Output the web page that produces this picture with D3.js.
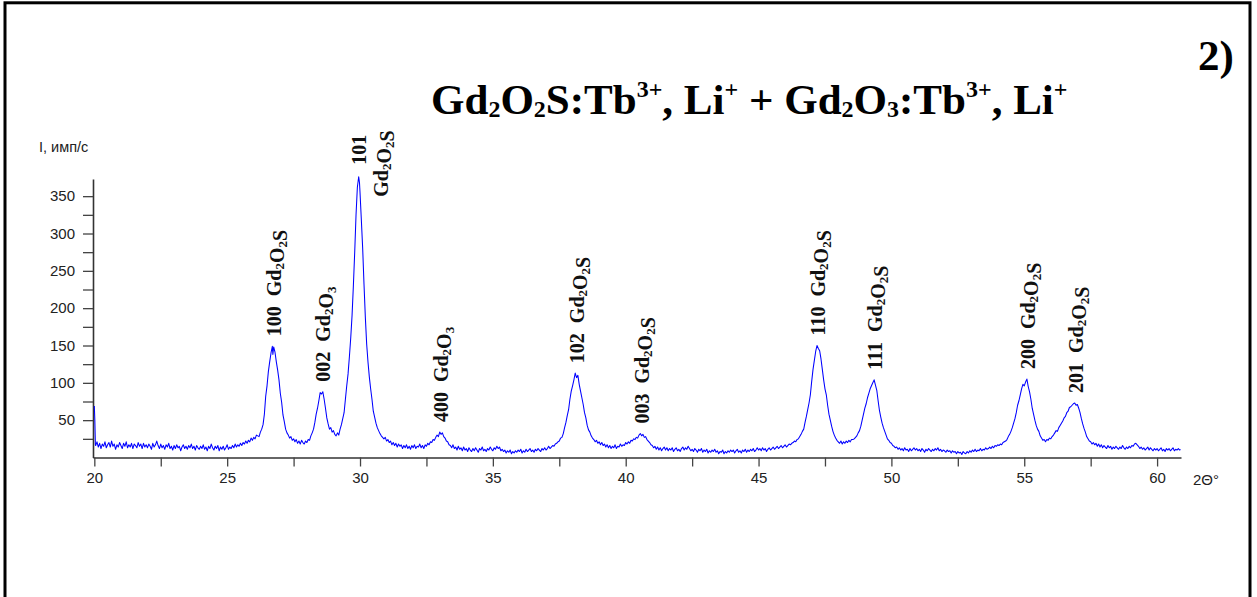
<!DOCTYPE html>
<html>
<head>
<meta charset="utf-8">
<script src="https://cdn.jsdelivr.net/npm/d3@7"></script>
<style>
  body { margin: 0; background: #fff; }
  svg { display: block; }
</style>
</head>
<body>
<svg id="chart" width="1257" height="597"></svg>
<script>
// XRD scan: [2theta, counts]
const scan = [
  [20.00,69],[20.02,49],[20.04,17],
  [20.05,16],[20.10,21],[20.15,14],[20.20,19],[20.25,12],[20.30,18],[20.35,15],[20.40,21],[20.45,13],[20.50,17],
  [20.55,20],[20.60,14],[20.65,22],[20.70,15],[20.75,18],[20.80,11],[20.85,17],[20.90,14],[20.95,20],
  [21.00,16],[21.05,12],[21.10,19],[21.15,15],[21.20,21],[21.25,13],[21.30,17],[21.35,14],[21.40,19],[21.45,12],
  [21.50,18],[21.55,16],[21.60,13],[21.65,20],[21.70,15],[21.75,18],[21.80,12],[21.85,19],[21.90,14],[21.95,17],
  [22.00,13],[22.05,18],[22.10,15],[22.15,11],[22.20,19],[22.25,14],[22.30,17],[22.35,22],[22.40,16],[22.45,12],
  [22.50,18],[22.55,13],[22.60,16],[22.65,11],[22.70,17],[22.75,14],[22.80,19],[22.85,12],[22.90,15],[22.95,10],
  [23.00,16],[23.05,12],[23.10,17],[23.15,13],[23.20,15],[23.25,9],[23.30,14],[23.35,17],[23.40,12],[23.45,15],
  [23.50,11],[23.55,16],[23.60,13],[23.65,18],[23.70,12],[23.75,15],[23.80,10],[23.85,16],[23.90,13],[23.95,11],
  [24.00,15],[24.05,12],[24.10,17],[24.15,11],[24.20,14],[24.25,9],[24.30,15],[24.35,12],[24.40,18],[24.45,13],
  [24.50,10],[24.55,15],[24.60,12],[24.65,16],[24.70,9],[24.75,14],[24.80,11],[24.85,15],[24.90,10],[24.95,13],
  [25.00,17],[25.05,11],[25.10,14],[25.15,12],[25.20,16],[25.25,13],[25.30,18],[25.35,14],[25.40,17],[25.45,15],
  [25.50,19],[25.55,16],[25.60,20],[25.65,18],[25.70,22],[25.75,19],[25.80,23],[25.85,21],[25.90,26],[25.95,23],
  [26.00,27],[26.05,25],[26.10,30],[26.15,29],[26.20,28],[26.25,34],[26.30,38],[26.35,44],[26.40,58],[26.45,82],
  [26.50,96],[26.55,115],[26.60,128],[26.65,140],[26.70,149],[26.72,138],[26.75,148],[26.80,141],
  [26.85,128],[26.90,117],[26.95,104],[27.00,86],[27.05,74],[27.10,57],[27.15,48],[27.20,38],[27.25,33],
  [27.30,30],[27.35,26],[27.40,28],[27.45,23],[27.50,25],[27.55,21],[27.60,24],[27.65,19],[27.70,22],
  [27.75,18],[27.80,23],[27.85,20],[27.90,18],[27.95,22],
  [28.00,20],[28.05,24],[28.10,23],[28.15,29],[28.20,33],[28.25,38],[28.30,47],[28.35,58],[28.40,66],
  [28.45,76],[28.50,87],[28.55,85],[28.60,88],[28.65,78],[28.70,66],[28.75,53],[28.80,45],[28.85,38],
  [28.90,40],[28.95,34],[29.00,36],[29.05,31],[29.10,29],[29.15,33],[29.20,30],[29.25,38],[29.30,44],
  [29.35,52],[29.40,60],[29.45,78],[29.50,96],[29.55,112],[29.60,135],[29.65,160],[29.70,190],[29.75,230],
  [29.80,275],[29.85,325],[29.90,362],[29.95,376],[29.98,368],[30.00,355],[30.05,318],[30.10,280],
  [30.15,232],[30.20,188],[30.25,152],[30.30,128],[30.35,108],[30.40,92],[30.45,78],[30.50,62],[30.55,54],
  [30.60,46],[30.65,40],[30.70,36],[30.75,32],[30.80,29],[30.85,27],
  [30.90,25],[30.95,27],[31.00,22],[31.05,24],[31.10,20],[31.15,22],[31.20,17],[31.25,20],[31.30,16],[31.35,19],
  [31.40,14],[31.45,18],[31.50,15],[31.55,17],[31.60,12],[31.65,16],[31.70,13],[31.75,17],[31.80,12],[31.85,15],
  [31.90,11],[31.95,16],[32.00,13],[32.05,17],[32.10,12],[32.15,15],[32.20,14],[32.25,18],[32.30,13],[32.35,16],
  [32.40,12],[32.45,17],[32.50,15],[32.55,19],[32.60,17],[32.65,21],[32.70,20],[32.75,24],[32.80,23],[32.85,27],
  [32.90,30],[32.95,28],[33.00,34],[33.05,31],[33.10,33],[33.15,28],[33.20,26],[33.25,22],[33.30,21],[33.35,17],
  [33.40,16],[33.45,13],[33.50,17],[33.55,12],[33.60,14],[33.65,10],[33.70,15],[33.75,11],[33.80,13],[33.85,9],
  [33.90,14],[33.95,10],
  [34.00,12],[34.05,8],[34.10,13],[34.15,10],[34.20,8],[34.25,12],[34.30,9],[34.35,13],[34.40,10],[34.45,7],
  [34.50,12],[34.55,10],[34.60,14],[34.65,9],[34.70,11],[34.75,8],[34.80,12],[34.85,10],[34.90,14],[34.95,11],
  [35.00,9],[35.05,13],[35.10,11],[35.15,15],[35.20,12],[35.25,14],[35.30,9],[35.35,11],[35.40,8],[35.45,10],
  [35.50,6],[35.55,9],[35.60,7],[35.65,10],[35.70,5],[35.75,8],[35.80,6],[35.85,9],[35.90,7],[35.95,10],
  [36.00,8],[36.05,11],[36.10,6],[36.15,9],[36.20,7],[36.25,11],[36.30,8],[36.35,10],[36.40,12],[36.45,8],
  [36.50,10],[36.55,7],[36.60,11],[36.65,9],[36.70,12],[36.75,10],[36.80,8],[36.85,12],[36.90,10],[36.95,13],
  [37.00,10],[37.05,12],[37.10,15],[37.15,12],[37.20,14],[37.25,16],[37.30,15],[37.35,18],[37.40,19],[37.45,21],
  [37.50,22],[37.55,26],[37.60,27],[37.65,32],[37.70,40],[37.75,47],[37.80,56],[37.85,64],[37.90,78],
  [37.95,89],[38.00,96],[38.05,104],[38.10,113],[38.15,107],[38.20,110],[38.25,98],[38.30,89],[38.35,80],
  [38.40,71],[38.45,60],[38.50,53],[38.55,43],[38.60,37],[38.65,34],[38.70,29],[38.75,26],
  [38.80,24],[38.85,21],[38.90,23],[38.95,19],[39.00,21],[39.05,17],[39.10,20],[39.15,16],[39.20,18],[39.25,14],
  [39.30,17],[39.35,13],[39.40,16],[39.45,12],[39.50,15],[39.55,13],[39.60,17],[39.65,12],[39.70,15],[39.75,14],
  [39.80,18],[39.85,15],[39.90,17],[39.95,16],[40.00,20],[40.05,18],[40.10,21],[40.15,19],[40.20,23],[40.25,22],
  [40.30,25],[40.35,24],[40.40,27],[40.45,26],[40.50,30],[40.55,32],[40.60,29],[40.65,31],[40.70,27],[40.75,28],
  [40.80,24],[40.85,22],[40.90,20],[40.95,17],
  [41.00,16],[41.05,13],[41.10,15],[41.15,11],[41.20,14],[41.25,10],[41.30,13],[41.35,9],[41.40,12],[41.45,14],
  [41.50,10],[41.55,13],[41.60,9],[41.65,12],[41.70,10],[41.75,13],[41.80,8],[41.85,11],[41.90,13],[41.95,9],
  [42.00,11],[42.05,8],[42.10,12],[42.15,14],[42.20,10],[42.25,13],[42.30,11],[42.35,15],[42.40,12],[42.45,9],
  [42.50,11],[42.55,8],[42.60,12],[42.65,10],[42.70,7],[42.75,11],[42.80,9],[42.85,12],[42.90,7],[42.95,10],
  [43.00,8],[43.05,11],[43.10,6],[43.15,9],[43.20,7],[43.25,10],[43.30,8],[43.35,11],[43.40,7],[43.45,9],
  [43.50,5],[43.55,8],[43.60,7],[43.65,10],[43.70,5],[43.75,8],[43.80,6],[43.85,9],[43.90,7],[43.95,10],
  [44.00,8],[44.05,10],[44.10,6],[44.15,9],[44.20,11],[44.25,7],[44.30,9],[44.35,6],[44.40,10],[44.45,8],
  [44.50,11],[44.55,7],[44.60,10],[44.65,8],[44.70,11],[44.75,9],[44.80,12],[44.85,8],[44.90,10],[44.95,13],
  [45.00,10],[45.05,12],[45.10,9],[45.15,13],[45.20,10],[45.25,12],[45.30,8],[45.35,11],[45.40,13],[45.45,10],
  [45.50,12],[45.55,14],[45.60,11],[45.65,13],[45.70,15],[45.75,12],[45.80,14],[45.85,16],[45.90,13],[45.95,15],
  [46.00,17],[46.05,14],[46.10,16],[46.15,18],[46.20,17],[46.25,19],[46.30,20],[46.35,22],[46.40,21],[46.45,24],
  [46.50,25],[46.55,28],[46.60,31],[46.65,35],[46.70,38],[46.75,47],[46.80,55],[46.85,64],[46.90,73],
  [46.95,84],[47.00,102],[47.05,118],[47.10,130],[47.15,142],[47.20,150],[47.25,146],[47.30,143],
  [47.35,132],[47.40,118],[47.45,104],[47.50,92],[47.55,84],[47.60,70],[47.65,58],[47.70,50],[47.75,42],
  [47.80,35],[47.85,30],[47.90,26],[47.95,23],
  [48.00,21],[48.05,19],[48.10,22],[48.15,18],[48.20,21],[48.25,19],[48.30,22],[48.35,20],[48.40,23],[48.45,21],
  [48.50,24],[48.55,24],[48.60,25],[48.65,27],[48.70,29],[48.75,33],[48.80,36],[48.85,42],[48.90,50],
  [48.95,58],[49.00,66],[49.05,72],[49.10,80],[49.15,86],[49.20,92],[49.25,96],[49.30,100],[49.35,104],
  [49.40,97],[49.45,90],[49.50,76],[49.55,63],[49.60,54],[49.65,46],[49.70,40],[49.75,35],[49.80,30],
  [49.85,25],[49.90,23],[49.95,20],
  [50.00,19],[50.05,16],[50.10,15],[50.15,13],[50.20,14],[50.25,11],[50.30,13],[50.35,10],[50.40,12],[50.45,9],
  [50.50,13],[50.55,10],[50.60,11],[50.65,8],[50.70,12],[50.75,9],[50.80,11],[50.85,13],[50.90,10],[50.95,12],
  [51.00,9],[51.05,11],[51.10,8],[51.15,12],[51.20,10],[51.25,7],[51.30,11],[51.35,9],[51.40,12],[51.45,10],
  [51.50,8],[51.55,11],[51.60,9],[51.65,12],[51.70,10],[51.75,13],[51.80,9],[51.85,11],[51.90,8],[51.95,10],
  [52.00,9],[52.05,7],[52.10,10],[52.15,8],[52.20,9],[52.25,6],[52.30,9],[52.35,7],[52.40,8],[52.45,5],
  [52.50,8],[52.55,6],[52.60,7],[52.65,4],[52.70,8],[52.75,6],[52.80,5],[52.85,8],[52.90,6],[52.95,9],
  [53.00,7],[53.05,10],[53.10,8],[53.15,11],[53.20,8],[53.25,10],[53.30,9],[53.35,12],[53.40,9],[53.45,11],
  [53.50,10],[53.55,13],[53.60,11],[53.65,12],[53.70,14],[53.75,12],[53.80,15],[53.85,13],[53.90,16],[53.95,15],
  [54.00,17],[54.05,16],[54.10,18],[54.15,17],[54.20,20],[54.25,21],[54.30,22],[54.35,24],[54.40,28],
  [54.45,31],[54.50,35],[54.55,40],[54.60,46],[54.65,52],[54.70,60],[54.75,70],[54.80,76],[54.85,84],
  [54.90,92],[54.95,98],[55.00,96],[55.05,101],[55.10,105],[55.15,95],[55.20,88],[55.25,78],[55.30,66],
  [55.35,58],[55.40,50],[55.45,43],[55.50,38],[55.55,35],[55.60,29],[55.65,26],[55.70,23],[55.75,24],
  [55.80,21],[55.85,24],[55.90,23],[55.95,26],[56.00,25],[56.05,28],[56.10,30],[56.15,33],[56.20,36],
  [56.25,35],[56.30,40],[56.35,43],[56.40,46],[56.45,49],[56.50,53],[56.55,55],[56.60,60],[56.65,62],
  [56.70,67],[56.75,68],[56.80,70],[56.85,72],[56.90,73],[56.95,70],[57.00,71],[57.05,66],[57.10,60],
  [57.15,52],[57.20,45],[57.25,39],[57.30,34],[57.35,28],[57.40,25],[57.45,22],
  [57.50,21],[57.55,18],[57.60,20],[57.65,17],[57.70,19],[57.75,15],[57.80,18],[57.85,14],[57.90,17],[57.95,13],
  [58.00,16],[58.05,14],[58.10,12],[58.15,16],[58.20,13],[58.25,15],[58.30,11],[58.35,14],[58.40,12],[58.45,15],
  [58.50,13],[58.55,11],[58.60,14],[58.65,12],[58.70,16],[58.75,13],[58.80,11],[58.85,14],[58.90,12],[58.95,15],
  [59.00,13],[59.05,16],[59.10,15],[59.15,18],[59.20,19],[59.25,17],[59.30,15],[59.35,12],[59.40,14],[59.45,11],
  [59.50,13],[59.55,10],[59.60,12],[59.65,14],[59.70,10],[59.75,13],[59.80,11],[59.85,9],[59.90,12],[59.95,10],
  [60.00,12],[60.05,9],[60.10,11],[60.15,13],[60.20,9],[60.25,11],[60.30,8],[60.35,12],[60.40,10],[60.45,12],
  [60.50,9],[60.55,11],[60.60,13],[60.65,9],[60.70,11],[60.75,10],[60.80,12],[60.85,10],[60.88,11]
];

const peakAngles = [26.72, 28.57, 29.95, 33.02, 38.12, 40.57, 47.2, 49.35, 55.1, 56.9];
const peakHkl = ['100', '002', '101', '400', '102', '003', '110', '111', '200', '201'];
const peakPhase = ['Gd2O2S', 'Gd2O3', 'Gd2O2S', 'Gd2O3', 'Gd2O2S', 'Gd2O2S', 'Gd2O2S', 'Gd2O2S', 'Gd2O2S', 'Gd2O2S'];

const xMajorTicks = [20, 25, 30, 35, 40, 45, 50, 55, 60];
const xMinorTicks = [22.5, 27.5, 32.5, 37.5, 42.5, 47.5, 52.5, 57.5];
const yMajorTicks = [50, 100, 150, 200, 250, 300, 350];
const yMinorTicks = [25, 75, 125, 175, 225, 275, 325];

const SANS = '"Liberation Sans", Arial, sans-serif';
const SERIF = '"Liberation Serif", "Times New Roman", serif';

const svg = d3.select('#chart');

// frame round the figure
svg.append('rect')
  .attr('x', 5).attr('y', 2.8)
  .attr('width', 1245).attr('height', 700)
  .attr('fill', 'none').attr('stroke', '#000').attr('stroke-width', 3);

const xScale = d3.scaleLinear().domain([19.95, 60.9]).range([93, 1181]);
const yScale = d3.scaleLinear().domain([0, 373]).range([457.5, 179]);

const majorX = new Set(xMajorTicks);
const xAxis = svg.append('g')
  .attr('transform', `translate(0, ${yScale(0)})`)
  .call(d3.axisBottom(xScale)
    .tickValues(xMajorTicks.concat(xMinorTicks))
    .tickFormat(d => majorX.has(d) ? d : '')
    .tickSize(9).tickSizeOuter(0).tickPadding(6));

const majorY = new Set(yMajorTicks);
const yAxis = svg.append('g')
  .attr('transform', `translate(${xScale.range()[0]}, 0)`)
  .call(d3.axisLeft(yScale)
    .tickValues(yMajorTicks.concat(yMinorTicks))
    .tickFormat(d => majorY.has(d) ? d : '')
    .tickSize(10).tickSizeOuter(0).tickPadding(8));

[xAxis, yAxis].forEach(ax => {
  ax.select('.domain').attr('stroke', '#333').attr('stroke-width', 1.6);
  ax.selectAll('.tick line').attr('stroke', '#444').attr('stroke-width', 1.3);
  ax.selectAll('.tick text')
    .attr('fill', '#222')
    .style('font-family', SANS).style('font-size', '15px');
});

svg.append('text')
  .attr('x', 39).attr('y', 152)
  .style('font-family', SANS).style('font-size', '14.5px').attr('fill', '#222')
  .text('I, имп/с');

svg.append('text')
  .attr('x', 1193).attr('y', 485)
  .style('font-family', SANS).style('font-size', '15px').attr('fill', '#222')
  .text('2Θ°');

// the pattern itself
const line = d3.line()
  .x(d => xScale(d[0]))
  .y(d => yScale(d[1]));

svg.append('path')
  .datum(scan)
  .attr('fill', 'none')
  .attr('stroke', '#0000ff')
  .attr('stroke-width', 1.05)
  .attr('stroke-linejoin', 'round')
  .attr('d', line);

// write a formula with its digits as subscripts
function addFormula(textSel, formula, size, subSize, shift) {
  formula.match(/[A-Za-z]+|\d+/g).forEach(part => {
    const isSub = /\d/.test(part);
    textSel.append('tspan')
      .attr('dy', isSub ? shift : 0)
      .style('font-size', (isSub ? subSize : size) + 'px')
      .text(part);
    if (isSub) textSel.append('tspan').attr('dy', -shift).text('');
  });
}

function peakTop(angle) {
  const near = scan.filter(d => Math.abs(d[0] - angle) <= 0.12);
  return d3.max(near, d => d[1]);
}

const labelLayer = svg.append('g')
  .style('font-family', SERIF).style('font-weight', 'bold').attr('fill', '#111');

peakAngles.forEach((angle, i) => {
  const px = xScale(angle);
  const py = yScale(peakTop(angle));

  const full = labelLayer.append('text')
    .attr('transform', `translate(${px + 8}, ${py - 10}) rotate(-90)`)
    .style('font-size', '20px');
  full.append('tspan').text(peakHkl[i] + '\u2002');
  addFormula(full, peakPhase[i], 20, 13, 3);

  // too tall for the space above the peak: split into two lines
  if (py - 10 - full.node().getComputedTextLength() < 130) {
    full.remove();
    labelLayer.append('text')
      .attr('transform', `translate(${px + 7}, ${py - 12}) rotate(-90)`)
      .style('font-size', '20px')
      .text(peakHkl[i]);
    const second = labelLayer.append('text')
      .attr('transform', `translate(${px + 29}, ${py + 20}) rotate(-90)`)
      .style('font-size', '20px');
    addFormula(second, peakPhase[i], 20, 13, 3);
  }
});

// title
const titleParts = [
  ['Gd', ''], ['2', 'sub'], ['O', ''], ['2', 'sub'], ['S:Tb', ''], ['3+', 'sup'],
  [', Li', ''], ['+', 'sup'], [' + Gd', ''], ['2', 'sub'], ['O', ''], ['3', 'sub'],
  [':Tb', ''], ['3+', 'sup'], [', Li', ''], ['+', 'sup']
];
const title = svg.append('text')
  .attr('x', 431).attr('y', 114)
  .style('font-family', SERIF).style('font-weight', 'bold').style('font-size', '43px')
  .attr('fill', '#000')
  .style('white-space', 'pre');
let offset = 0;
titleParts.forEach(([txt, kind]) => {
  const target = kind === 'sub' ? 3 : kind === 'sup' ? -17 : 0;
  title.append('tspan')
    .attr('dy', target - offset)
    .style('font-size', kind ? '24px' : '43px')
    .text(txt);
  offset = target;
});

svg.append('text')
  .attr('x', 1198).attr('y', 70)
  .style('font-family', SERIF).style('font-weight', 'bold').style('font-size', '43px')
  .attr('fill', '#000')
  .text('2)');
</script>
</body>
</html>
